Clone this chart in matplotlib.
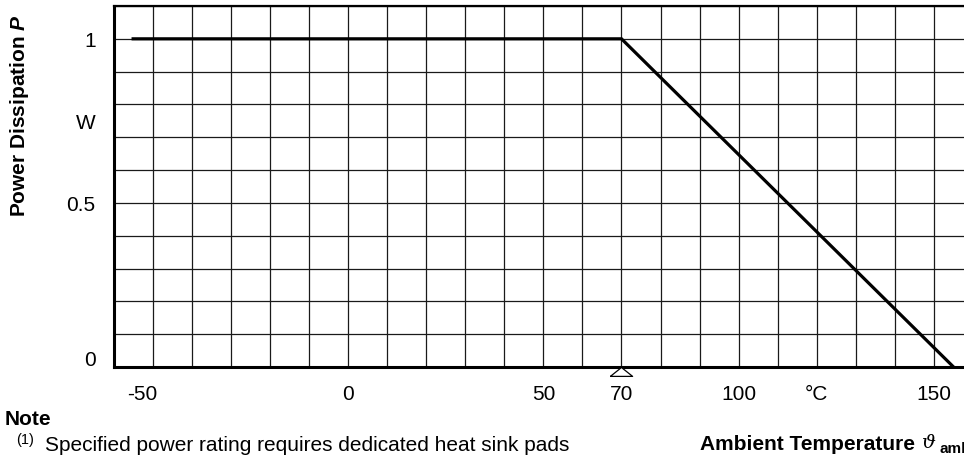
import matplotlib
matplotlib.use("Agg")
import matplotlib.pyplot as plt
import matplotlib.transforms as mtransforms
from matplotlib.ticker import MultipleLocator

plt.rcParams['font.family'] = ['Liberation Sans', 'DejaVu Sans']
plt.rcParams['mathtext.fontset'] = 'custom'
plt.rcParams['mathtext.it'] = 'Liberation Sans:italic:bold'

# derating curve (ambient temperature in degC, power in W)
temp = [-55, 70, 155]
power = [1.0, 1.0, 0.0]

x_ticks = [-50, 0, 50, 70, 100, 120, 150]
x_labels = ['-50', '0', '50', '70', '100', '°C', '150']
y_ticks = [0, 0.5, 0.75, 1.0]
y_labels = ['0', '0.5', 'W', '1']
rated_temp = 70

fig = plt.figure(figsize=(9.64, 4.6), dpi=100)
ax = fig.add_axes([113.6 / 964, 1 - 368 / 460, 859.5 / 964, 361 / 460])

ax.plot(temp, power, color='black', lw=2.3, solid_joinstyle='miter', zorder=3)

ax.set_xlim(-60, 160)
ax.set_ylim(0, 1.1)
ax.xaxis.set_minor_locator(MultipleLocator(10))
ax.yaxis.set_minor_locator(MultipleLocator(0.1))
ax.xaxis.remove_overlapping_locs = False
ax.yaxis.remove_overlapping_locs = False
ax.grid(False, which='major')
ax.grid(True, which='minor', color='#1a1a1a', lw=0.9)
ax.set_axisbelow(True)

ax.set_xticks(x_ticks)
ax.set_xticklabels(x_labels, fontsize=15)
ax.set_yticks(y_ticks)
ax.set_yticklabels(y_labels, fontsize=15)
ax.tick_params(which='both', length=0)
ax.tick_params(axis='x', pad=12)
ax.tick_params(axis='y', pad=13)

# nudge the "-50" and "0" labels like the datasheet does
xl = ax.get_xticklabels()[0]
xl.set_transform(xl.get_transform() + mtransforms.ScaledTranslation(-10 / 100, 0, fig.dpi_scale_trans))
yl = ax.get_yticklabels()[0]
yl.set_transform(yl.get_transform() + mtransforms.ScaledTranslation(0, 9 / 100, fig.dpi_scale_trans))

for side in ['left', 'bottom']:
    ax.spines[side].set_linewidth(2.2)
ax.spines['top'].set_linewidth(1.6)
ax.spines['right'].set_visible(False)

# open triangle marking the rated temperature
tri = [(-1, -0.8), (1, -0.8), (0, 0), (-1, -0.8)]
ax.plot([rated_temp], [0], marker=tri, ms=16, mfc='white', mec='black', mew=0.9,
        ls='none', clip_on=False, zorder=5)

fig.text(20 / 964, 1 - 14 / 460, r'Power Dissipation $\mathit{P}$', rotation=90,
         ha='center', va='top', fontsize=15, fontweight='bold')

fig.text(5 / 964, 1 - 425 / 460, 'Note', fontsize=15, fontweight='bold', ha='left', va='baseline')
fig.text(16 / 964, 1 - 444 / 460, '(1)', fontsize=10.5, ha='left', va='baseline')
fig.text(45 / 964, 1 - 451 / 460, 'Specified power rating requires dedicated heat sink pads',
         fontsize=15, ha='left', va='baseline')

fig.text(700 / 964, 1 - 450 / 460, 'Ambient Temperature', fontsize=15,
         fontweight='bold', ha='left', va='baseline')
fig.text(922 / 964, 1 - 448 / 460, 'ϑ', fontsize=14, ha='left', va='baseline',
         family=['DejaVu Serif'], style='italic')
fig.text(940 / 964, 1 - 453 / 460, 'amb', fontsize=11, fontweight='bold', ha='left', va='baseline')

fig.savefig('out.png', dpi=100)
